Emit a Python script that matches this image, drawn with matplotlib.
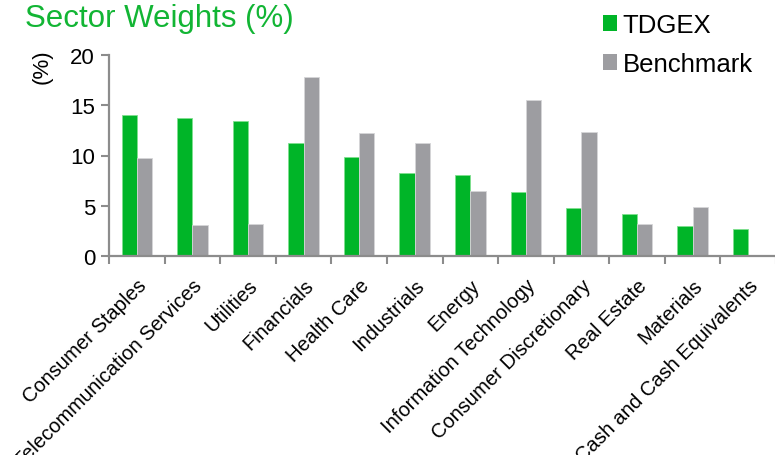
import matplotlib
matplotlib.use("Agg")
import matplotlib.pyplot as plt
import matplotlib.transforms as mtransforms
from matplotlib.patches import Patch
import numpy as np

categories = ["Consumer Staples", "Telecommunication Services", "Utilities", "Financials",
              "Health Care", "Industrials", "Energy", "Information Technology",
              "Consumer Discretionary", "Real Estate", "Materials", "Cash and Cash Equivalents"]
tdgex = [14.0, 13.7, 13.4, 11.2, 9.9, 8.3, 8.1, 6.4, 4.8, 4.2, 3.0, 2.7]
benchmark = [9.8, 3.1, 3.2, 17.8, 12.2, 11.2, 6.5, 15.5, 12.3, 3.2, 4.9, np.nan]
yticks = [0, 5, 10, 15, 20]

GREEN = "#00B528"
GRAY = "#9D9DA1"
AXC = "#8C8C8C"

plt.rcParams['font.family'] = ['Liberation Sans', 'DejaVu Sans']

W, H = 775, 456
fig = plt.figure(figsize=(W / 100, H / 100), dpi=100)
ax = fig.add_axes([109 / W, 1 - 257 / H, (776 - 109) / W, (257 - 56) / H])

x = np.arange(len(categories))
bw = 0.275
ax.bar(x - bw / 2, tdgex, width=bw, color=GREEN, edgecolor="#7FE08F", linewidth=0.6, label="TDGEX")
ax.bar(x + bw / 2, benchmark, width=bw, color=GRAY, edgecolor="#D6D6D8", linewidth=0.6, label="Benchmark")

ax.set_xlim(-0.5, len(categories) - 0.5)
ax.set_ylim(0, 20)
ax.set_yticks(yticks)
ax.set_yticklabels([str(t) for t in yticks], fontsize=16)

ax.set_xticks(x)
ax.set_xticklabels(categories, fontsize=14.5, rotation=45, ha='right', va='top',
                   rotation_mode='anchor')
offset = mtransforms.ScaledTranslation(4 / 100, 0, fig.dpi_scale_trans)
for lab in ax.get_xticklabels():
    lab.set_transform(lab.get_transform() + offset)
ax.tick_params(axis='x', which='major', length=0, pad=14)
ax.set_xticks(np.arange(-0.5, len(categories), 1.0), minor=True)
ax.tick_params(axis='x', which='minor', length=6, width=1.5, color=AXC, direction='out')
ax.tick_params(axis='y', length=6, width=1.5, color=AXC, direction='out', pad=4)

for s in ['top', 'right']:
    ax.spines[s].set_visible(False)
for s in ['left', 'bottom']:
    ax.spines[s].set_color(AXC)
    ax.spines[s].set_linewidth(1.6)

fig.text(25 / W, 1 - 27 / H, "Sector Weights (%)", color="#12B534", fontsize=22.5,
         ha='left', va='baseline')
fig.text(42 / W, 1 - 67 / H, "(%)", fontsize=16, rotation=90, ha='center', va='center')

handles = [Patch(facecolor=GREEN, edgecolor='none'), Patch(facecolor=GRAY, edgecolor='none')]
fig.legend(handles, ["TDGEX", "Benchmark"], loc='upper left',
           bbox_to_anchor=(598 / W, 1 - 9 / H), frameon=False, fontsize=18.5,
           handlelength=0.55, handleheight=0.55, handletextpad=0.2, labelspacing=0.58,
           borderpad=0.2, borderaxespad=0)

fig.savefig("out.png", dpi=100)
